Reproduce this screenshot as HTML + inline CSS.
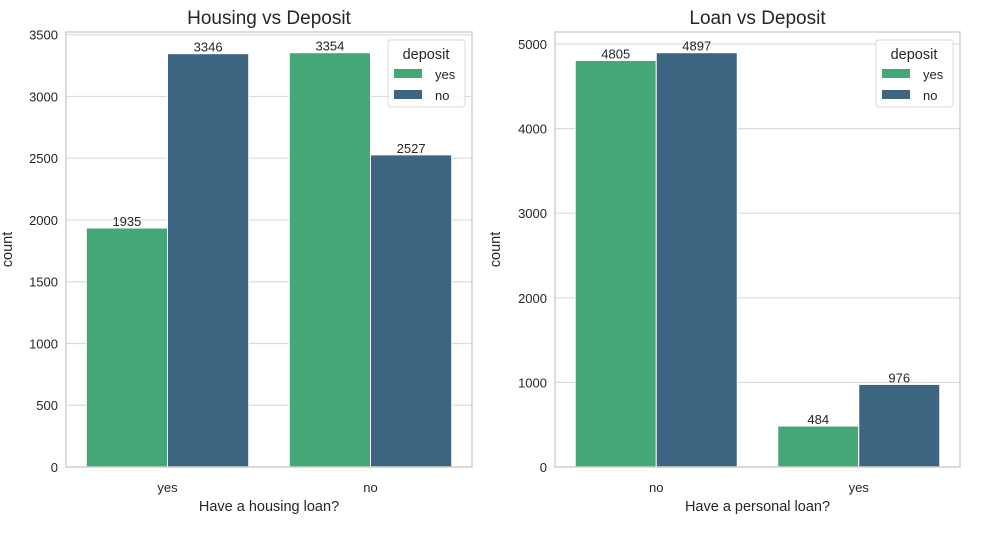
<!DOCTYPE html>
<html><head><meta charset="utf-8"><style>
body{margin:0;background:#fff;font-family:"Liberation Sans",Arial,sans-serif;}
svg text{font-family:"Liberation Sans",Arial,sans-serif;fill:#262626;}
</style></head><body>
<svg id="c" width="988" height="532"></svg>
<script>
const housingCats=["yes","no"];
const housingYes=[1935,3354];
const housingNo=[3346,2527];
const housingTicks=[0,500,1000,1500,2000,2500,3000,3500];
const loanCats=["no","yes"];
const loanYes=[4805,484];
const loanNo=[4897,976];
const loanTicks=[0,1000,2000,3000,4000,5000];
const seriesNames=["yes","no"];
const colors=["#45a778","#3d6480"];
const NS="http://www.w3.org/2000/svg";
const svg=document.getElementById('c');
function mk(t,a,p){const e=document.createElementNS(NS,t);for(const k in a)e.setAttribute(k,a[k]);(p||svg).appendChild(e);return e;}
function panel(prefix,L,R,T,B,cats,s1,s2,ticks,title,xlabel,ylabX){
  const g=mk('g',{});
  
  
  const ymax=Math.max(...s1,...s2)*1.05;
  const y=v=>B-(v/ymax)*(B-T);
  const step=(R-L)/cats.length;
  const x=i=>L+step*(i+0.5);
  ticks.forEach(t=>{
    const l=mk('line',{x1:L,x2:R,y1:y(t),y2:y(t),stroke:'#dcdcdc','stroke-width':1.2},g);
    
    
    const tx=mk('text',{x:L-8,y:y(t)+5,'text-anchor':'end','font-size':13},g);
    tx.textContent=t;
    
    
  });
  const bw=step*0.8/2;
  [s1,s2].forEach((s,si)=>{
    s.forEach((v,i)=>{
      const bx=x(i)-step*0.4+si*bw;
      const r=mk('rect',{x:bx,y:y(v),width:bw,height:B-y(v),fill:colors[si],stroke:'#fff','stroke-width':1},g);
      
      
      const t=mk('text',{x:bx+bw/2,y:y(v)-2,'text-anchor':'middle','font-size':13},g);
      t.textContent=v;
      
      
    });
  });
  const f=mk('rect',{x:L,y:T,width:R-L,height:B-T,fill:'none',stroke:'#d0d0d0','stroke-width':1.5},g);
  
  
  cats.forEach((c,i)=>{
    const t=mk('text',{x:x(i),y:B+25,'text-anchor':'middle','font-size':13},g);
    t.textContent=c;
    
    
  });
  const tt=mk('text',{x:(L+R)/2,y:T-8,'text-anchor':'middle','font-size':19},g);
  tt.textContent=title;
  
  
  const xl=mk('text',{x:(L+R)/2,y:B+44,'text-anchor':'middle','font-size':14.5},g);
  xl.textContent=xlabel;
  
  
  const yl=mk('text',{x:0,y:0,'text-anchor':'middle','font-size':14.5,transform:`translate(${ylabX},${(T+B)/2}) rotate(-90)`},g);
  yl.textContent='count';
  
  
  const lx=R-84,ly=T+8;
  const lg=mk('g',{},g);
  
  
  mk('rect',{x:lx,y:ly,width:77,height:67,rx:3,fill:'#fff','fill-opacity':0.85,stroke:'#d8d8d8'},lg);
  const lt=mk('text',{x:lx+38,y:ly+19,'text-anchor':'middle','font-size':14.5},lg);
  lt.textContent='deposit';
  seriesNames.forEach((n,i)=>{
    const e=mk('g',{},lg);
    
    
    mk('rect',{x:lx+6,y:ly+29+i*21,width:28,height:9,fill:colors[i]},e);
    const t=mk('text',{x:lx+47,y:ly+39+i*21,'font-size':13},e);
    t.textContent=n;
  });
}
panel('housing',66,472,32,467,housingCats,housingYes,housingNo,housingTicks,'Housing vs Deposit','Have a housing loan?',12);
panel('loan',555,960,32,467,loanCats,loanYes,loanNo,loanTicks,'Loan vs Deposit','Have a personal loan?',500);
</script>
</body></html>
